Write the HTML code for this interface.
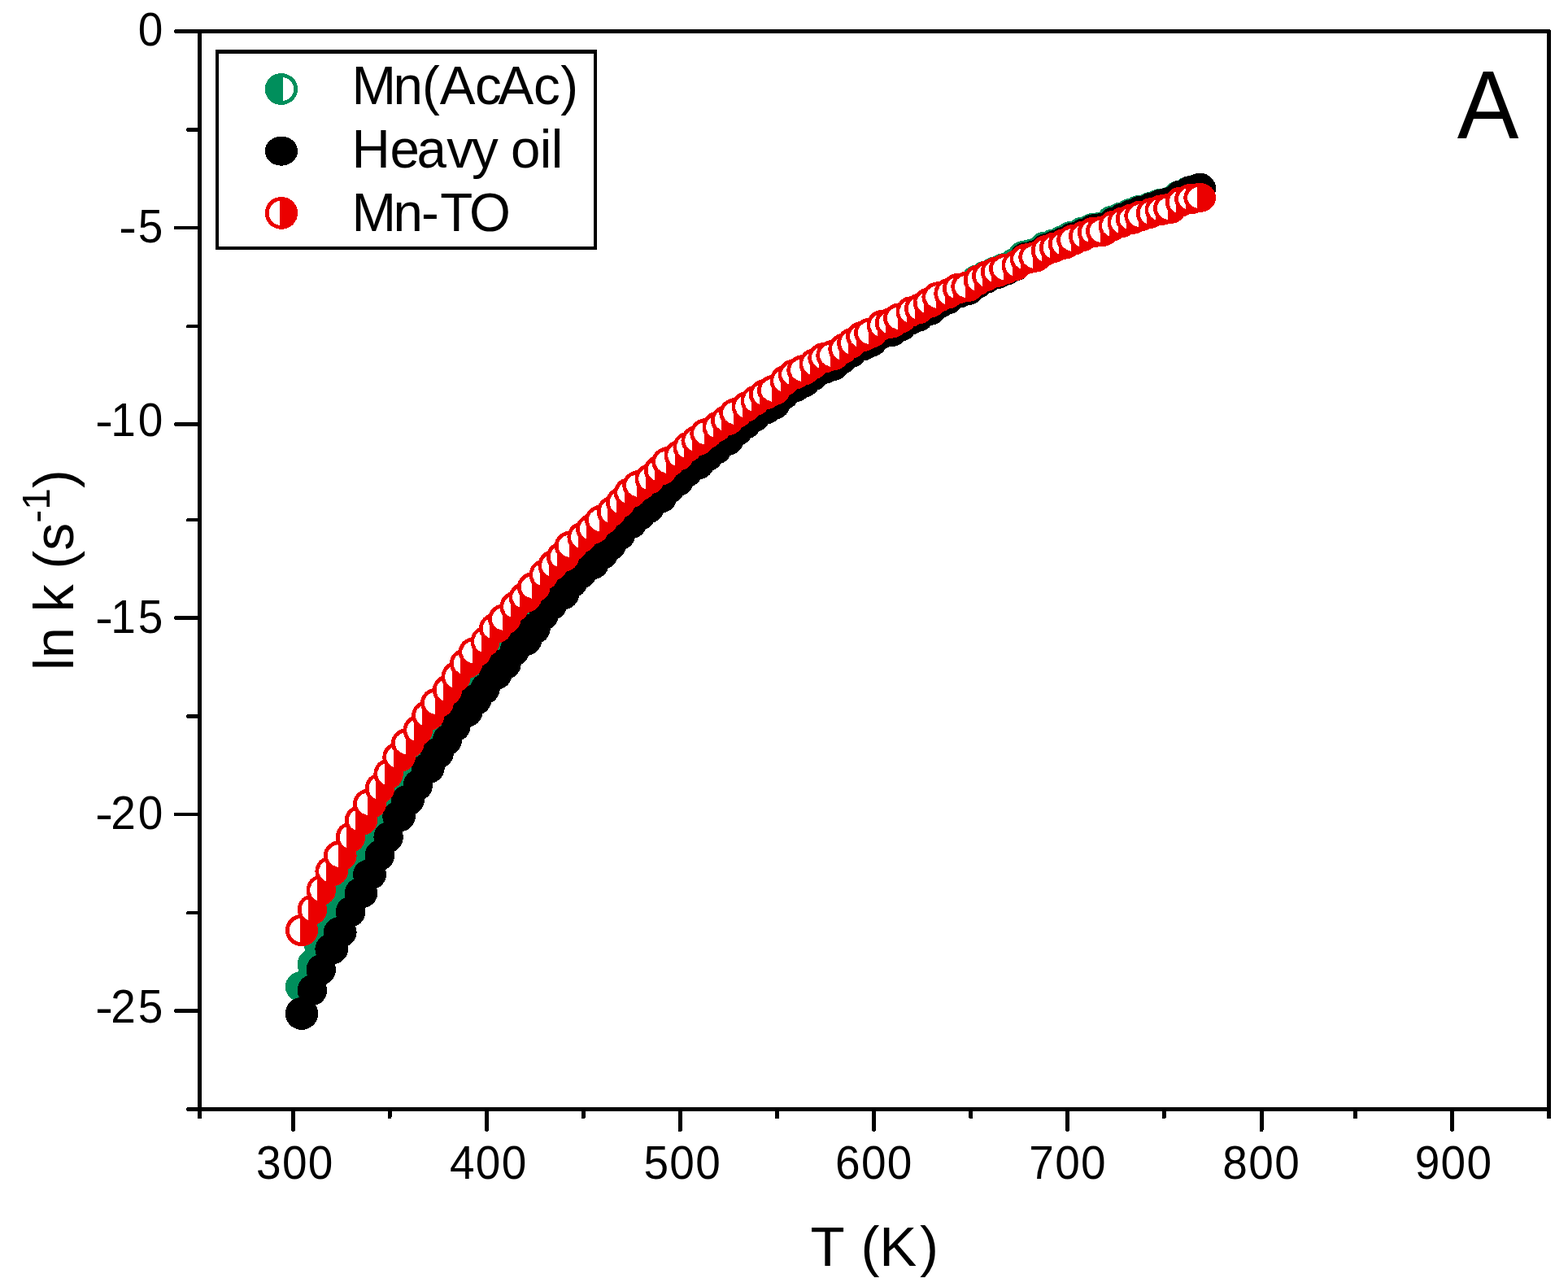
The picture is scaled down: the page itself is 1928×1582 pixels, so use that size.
<!DOCTYPE html>
<html lang="en"><head><meta charset="utf-8"><title>ln k vs T</title>
<style>
html,body{margin:0;padding:0;background:#fff}
body{width:1928px;height:1582px;overflow:hidden}
svg{display:block}
.gm,.rm,.bm,.ax{shape-rendering:crispEdges}
.t{font-family:"Liberation Sans",sans-serif;fill:#000}
.gm ellipse{fill:#008f5c}
.rm ellipse{fill:#eb0000}
.gm path,.rm path{fill:#fff}
</style></head><body>
<svg width="1928" height="1582" viewBox="0 0 1928 1582">
<rect width="1928" height="1582" fill="#fff"/>
<g class="gm"><ellipse cx="371" cy="1212.9" rx="20.2" ry="19"/><ellipse cx="383.9" cy="1185.5" rx="18.2" ry="19"/><ellipse cx="393.5" cy="1161.9" rx="19.4" ry="19"/><ellipse cx="406.4" cy="1139.9" rx="21.6" ry="19"/><ellipse cx="417" cy="1119.5" rx="21.7" ry="19"/><ellipse cx="429.8" cy="1093.2" rx="19.4" ry="19"/><ellipse cx="442.8" cy="1071.6" rx="21.6" ry="19"/><ellipse cx="453.2" cy="1050.2" rx="21.7" ry="19"/><ellipse cx="465.6" cy="1028.3" rx="19.4" ry="19"/><ellipse cx="476.4" cy="1004.7" rx="19.4" ry="19"/><ellipse cx="489.4" cy="979.6" rx="21.6" ry="19"/><ellipse cx="500.1" cy="962.9" rx="21.6" ry="19"/><ellipse cx="512.5" cy="943.6" rx="19.4" ry="19"/><ellipse cx="525.1" cy="923" rx="21.5" ry="19"/><ellipse cx="536.1" cy="906.6" rx="21.6" ry="19"/><ellipse cx="548.6" cy="889.2" rx="19.4" ry="19"/><ellipse cx="559.3" cy="871.6" rx="19.4" ry="19"/><ellipse cx="572" cy="855.9" rx="21.5" ry="19"/><ellipse cx="582.8" cy="843.3" rx="21.6" ry="19"/><ellipse cx="595.3" cy="828" rx="19.4" ry="19"/><ellipse cx="608" cy="811.7" rx="21.5" ry="19"/><ellipse cx="619.1" cy="799.5" rx="21.6" ry="19"/><ellipse cx="631.4" cy="783.1" rx="19.4" ry="19"/><ellipse cx="644.5" cy="772.1" rx="21.5" ry="19"/><ellipse cx="655.1" cy="755.4" rx="21.6" ry="19"/><ellipse cx="667.3" cy="739.2" rx="19.4" ry="19"/><ellipse cx="678.2" cy="728.9" rx="19.4" ry="19"/><ellipse cx="690.8" cy="715.2" rx="21.5" ry="19"/><ellipse cx="700.9" cy="700.9" rx="21.6" ry="19"/><ellipse cx="714.2" cy="691.1" rx="19.4" ry="19"/><ellipse cx="727.1" cy="680" rx="21.5" ry="19"/><ellipse cx="738.1" cy="668.1" rx="21.6" ry="19"/><ellipse cx="750.6" cy="656.3" rx="19.4" ry="19"/><ellipse cx="761.8" cy="643" rx="19.4" ry="19"/><ellipse cx="773.6" cy="631.2" rx="21.5" ry="19"/><ellipse cx="784.5" cy="623.5" rx="21.6" ry="19"/><ellipse cx="797.5" cy="613.1" rx="19.4" ry="19"/><ellipse cx="810.8" cy="599.9" rx="21.5" ry="19"/><ellipse cx="820.5" cy="590.1" rx="21.6" ry="19"/><ellipse cx="833.5" cy="580.8" rx="19.4" ry="19"/><ellipse cx="844.3" cy="569.9" rx="19.4" ry="19"/><ellipse cx="856.5" cy="561.6" rx="21.5" ry="19"/><ellipse cx="867.5" cy="552" rx="21.6" ry="19"/><ellipse cx="880.4" cy="543.4" rx="19.4" ry="19"/><ellipse cx="893" cy="532.7" rx="21.5" ry="19"/><ellipse cx="903.5" cy="521.7" rx="21.6" ry="19"/><ellipse cx="916.5" cy="513.2" rx="19.4" ry="19"/><ellipse cx="927.3" cy="504.8" rx="19.4" ry="19"/><ellipse cx="939.8" cy="496.8" rx="21.5" ry="19"/><ellipse cx="950.1" cy="489.4" rx="21.6" ry="19"/><ellipse cx="963.3" cy="475.9" rx="19.4" ry="19"/><ellipse cx="975.6" cy="470.1" rx="21.5" ry="19"/><ellipse cx="986.5" cy="464.5" rx="21.6" ry="19"/><ellipse cx="999.3" cy="455" rx="19.4" ry="19"/><ellipse cx="1012.3" cy="448.8" rx="21.5" ry="19"/><ellipse cx="1022.5" cy="445" rx="21.6" ry="19"/><ellipse cx="1035.2" cy="434.7" rx="19.4" ry="19"/><ellipse cx="1046.1" cy="427.3" rx="19.4" ry="19"/><ellipse cx="1059.2" cy="420.2" rx="21.5" ry="19"/><ellipse cx="1069.2" cy="415.1" rx="21.6" ry="19"/><ellipse cx="1082.4" cy="406.1" rx="19.4" ry="19"/><ellipse cx="1094.8" cy="404.2" rx="21.5" ry="19"/><ellipse cx="1105.2" cy="396.5" rx="21.6" ry="19"/><ellipse cx="1118.4" cy="389" rx="19.4" ry="19"/><ellipse cx="1128.9" cy="385.3" rx="19.4" ry="19"/><ellipse cx="1141.8" cy="376.8" rx="21.5" ry="19"/><ellipse cx="1152.6" cy="369.6" rx="21.6" ry="19"/><ellipse cx="1165.2" cy="364.2" rx="19.4" ry="19"/><ellipse cx="1177.8" cy="357.4" rx="21.5" ry="19"/><ellipse cx="1188.4" cy="353.5" rx="21.6" ry="19"/><ellipse cx="1201.6" cy="344.3" rx="19.4" ry="19"/><ellipse cx="1212" cy="339.4" rx="19.4" ry="19"/><ellipse cx="1224.8" cy="334.2" rx="21.5" ry="19"/><ellipse cx="1235.2" cy="330.1" rx="21.6" ry="19"/><ellipse cx="1248.3" cy="323.4" rx="19.4" ry="19"/><ellipse cx="1260.7" cy="314.4" rx="21.5" ry="19"/><ellipse cx="1271.4" cy="312.1" rx="21.6" ry="19"/><ellipse cx="1284.6" cy="303.6" rx="19.4" ry="19"/><ellipse cx="1294.8" cy="300.6" rx="19.4" ry="19"/><ellipse cx="1307.8" cy="295.8" rx="21.5" ry="19"/><ellipse cx="1318.3" cy="290.5" rx="21.6" ry="19"/><ellipse cx="1330.8" cy="285.6" rx="19.4" ry="19"/><ellipse cx="1343.8" cy="281.1" rx="21.5" ry="19"/><ellipse cx="1354.2" cy="279.3" rx="21.6" ry="19"/><ellipse cx="1367.4" cy="271.6" rx="19.4" ry="19"/><ellipse cx="1378.3" cy="267.4" rx="19.4" ry="19"/><ellipse cx="1390.8" cy="262.8" rx="21.5" ry="19"/><ellipse cx="1401.4" cy="258.8" rx="21.6" ry="19"/><ellipse cx="1413.7" cy="255.2" rx="19.4" ry="19"/><ellipse cx="1426.7" cy="251.1" rx="21.5" ry="19"/><ellipse cx="1437.2" cy="248.9" rx="21.6" ry="19"/><ellipse cx="1449.7" cy="240.9" rx="19.4" ry="19"/><ellipse cx="1463.2" cy="235.4" rx="21.5" ry="19"/><ellipse cx="1473.9" cy="232.3" rx="21.1" ry="19"/></g>
<g class="bm" fill="#000"><ellipse cx="371" cy="1245.9" rx="20.2" ry="20"/><ellipse cx="383.9" cy="1217.2" rx="18.2" ry="19"/><ellipse cx="394.8" cy="1191.9" rx="18.2" ry="19"/><ellipse cx="407.7" cy="1166.6" rx="20.3" ry="19"/><ellipse cx="418.2" cy="1145.9" rx="20.4" ry="19"/><ellipse cx="431" cy="1120.8" rx="18.2" ry="19"/><ellipse cx="444" cy="1097.6" rx="20.3" ry="19"/><ellipse cx="454.5" cy="1075" rx="20.4" ry="19"/><ellipse cx="466.9" cy="1051.4" rx="18.2" ry="19"/><ellipse cx="477.6" cy="1029.1" rx="18.2" ry="19"/><ellipse cx="490.6" cy="1003.6" rx="20.3" ry="19"/><ellipse cx="501.4" cy="983.8" rx="20.4" ry="19"/><ellipse cx="513.8" cy="965.2" rx="18.2" ry="19"/><ellipse cx="526.4" cy="944.2" rx="20.3" ry="19"/><ellipse cx="537.4" cy="926.2" rx="20.4" ry="19"/><ellipse cx="549.9" cy="909.6" rx="18.1" ry="19"/><ellipse cx="560.6" cy="892.4" rx="18.1" ry="19"/><ellipse cx="573.2" cy="875.1" rx="20.3" ry="19"/><ellipse cx="584" cy="860.4" rx="20.4" ry="19"/><ellipse cx="596.6" cy="846.5" rx="18.1" ry="19"/><ellipse cx="609.2" cy="829.2" rx="20.3" ry="19"/><ellipse cx="620.3" cy="816.4" rx="20.4" ry="19"/><ellipse cx="632.6" cy="800" rx="18.1" ry="19"/><ellipse cx="645.8" cy="787.3" rx="20.3" ry="19"/><ellipse cx="656.3" cy="773" rx="20.4" ry="19"/><ellipse cx="668.6" cy="756" rx="18.1" ry="19"/><ellipse cx="679.5" cy="742.8" rx="18.1" ry="19"/><ellipse cx="692" cy="730.4" rx="20.3" ry="19"/><ellipse cx="702.1" cy="716.1" rx="20.4" ry="19"/><ellipse cx="715.5" cy="704.3" rx="18.1" ry="19"/><ellipse cx="728.4" cy="693.2" rx="20.3" ry="19"/><ellipse cx="739.4" cy="681.4" rx="20.4" ry="19"/><ellipse cx="751.9" cy="669.6" rx="18.1" ry="19"/><ellipse cx="763.1" cy="657" rx="18.1" ry="19"/><ellipse cx="774.9" cy="643.6" rx="20.3" ry="19"/><ellipse cx="785.7" cy="633.4" rx="20.4" ry="19"/><ellipse cx="798.8" cy="623.9" rx="18.1" ry="19"/><ellipse cx="812" cy="611.7" rx="20.3" ry="19"/><ellipse cx="821.7" cy="600.2" rx="20.4" ry="19"/><ellipse cx="834.8" cy="590.7" rx="18.1" ry="19"/><ellipse cx="845.6" cy="579.6" rx="18.1" ry="19"/><ellipse cx="857.8" cy="570.5" rx="20.3" ry="19"/><ellipse cx="868.7" cy="560.7" rx="20.4" ry="19"/><ellipse cx="881.6" cy="551.6" rx="18.1" ry="19"/><ellipse cx="894.2" cy="541" rx="20.3" ry="19"/><ellipse cx="904.7" cy="529.8" rx="20.4" ry="19"/><ellipse cx="917.8" cy="520.5" rx="18.1" ry="19"/><ellipse cx="928.6" cy="511.8" rx="18.1" ry="19"/><ellipse cx="941" cy="502.7" rx="20.3" ry="19"/><ellipse cx="951.4" cy="496.8" rx="20.4" ry="19"/><ellipse cx="964.6" cy="484.4" rx="18.1" ry="19"/><ellipse cx="976.9" cy="475.6" rx="20.3" ry="19"/><ellipse cx="987.7" cy="469.8" rx="20.4" ry="19"/><ellipse cx="1000.6" cy="461.2" rx="18.1" ry="19"/><ellipse cx="1013.6" cy="452.9" rx="20.3" ry="19"/><ellipse cx="1023.7" cy="449.2" rx="20.4" ry="19"/><ellipse cx="1036.4" cy="440.4" rx="18.1" ry="19"/><ellipse cx="1047.3" cy="432.9" rx="18.1" ry="19"/><ellipse cx="1060.4" cy="424.6" rx="20.3" ry="19"/><ellipse cx="1070.5" cy="419.9" rx="20.4" ry="19"/><ellipse cx="1083.7" cy="410.2" rx="18.1" ry="19"/><ellipse cx="1096" cy="407.1" rx="20.3" ry="19"/><ellipse cx="1106.5" cy="401" rx="20.4" ry="19"/><ellipse cx="1119.7" cy="392.7" rx="18.1" ry="19"/><ellipse cx="1130.2" cy="388.7" rx="18.1" ry="19"/><ellipse cx="1143" cy="381" rx="20.3" ry="19"/><ellipse cx="1153.8" cy="372.8" rx="20.4" ry="19"/><ellipse cx="1166.4" cy="367.2" rx="18.1" ry="19"/><ellipse cx="1179.1" cy="359.6" rx="20.3" ry="19"/><ellipse cx="1189.7" cy="356.2" rx="20.4" ry="19"/><ellipse cx="1202.8" cy="347.6" rx="18.1" ry="19"/><ellipse cx="1213.2" cy="341.8" rx="18.1" ry="19"/><ellipse cx="1226" cy="336.2" rx="20.3" ry="19"/><ellipse cx="1236.4" cy="331.9" rx="20.4" ry="19"/><ellipse cx="1249.6" cy="326.1" rx="18.1" ry="19"/><ellipse cx="1261.9" cy="316.6" rx="20.3" ry="19"/><ellipse cx="1272.7" cy="314.2" rx="20.4" ry="19"/><ellipse cx="1285.8" cy="306" rx="18.1" ry="19"/><ellipse cx="1296.1" cy="302.2" rx="18.1" ry="19"/><ellipse cx="1309.1" cy="297.6" rx="20.3" ry="19"/><ellipse cx="1319.6" cy="292.4" rx="20.4" ry="19"/><ellipse cx="1332.1" cy="287.4" rx="18.1" ry="19"/><ellipse cx="1345" cy="282.2" rx="20.3" ry="19"/><ellipse cx="1355.5" cy="280.7" rx="20.4" ry="19"/><ellipse cx="1368.7" cy="273.5" rx="18.1" ry="19"/><ellipse cx="1379.6" cy="268.8" rx="18.1" ry="19"/><ellipse cx="1392" cy="264.1" rx="20.3" ry="19"/><ellipse cx="1402.7" cy="259.7" rx="20.4" ry="19"/><ellipse cx="1414.9" cy="255.8" rx="18.1" ry="19"/><ellipse cx="1427.9" cy="251.3" rx="20.3" ry="19"/><ellipse cx="1438.4" cy="248.9" rx="20.4" ry="19"/><ellipse cx="1450.9" cy="240.4" rx="18.1" ry="19"/><ellipse cx="1464.5" cy="234.9" rx="20.3" ry="19"/><ellipse cx="1475.2" cy="231.7" rx="19.9" ry="19"/></g>
<g class="rm"><ellipse cx="371" cy="1143.5" rx="20.2" ry="19.6"/><path d="M362.3 1131.2L368.3 1128.7L368.9 1128.7L368.9 1158.3L368.3 1158.3L362.3 1155.8L358.3 1151.9L355.7 1146.1L355.7 1140.9L358.3 1135.1Z"/><ellipse cx="383.9" cy="1118.2" rx="18.2" ry="18.8"/><path d="M376.3 1106.6L379 1105.3L379 1131.1L376.3 1129.8L372.7 1126.2L370.5 1120.7L370.5 1115.7L372.7 1110.2Z"/><ellipse cx="394.8" cy="1094.2" rx="18.2" ry="18.8"/><path d="M387.2 1082.6L389.9 1081.3L389.9 1107.1L387.2 1105.8L383.6 1102.2L381.4 1096.7L381.4 1091.7L383.6 1086.2Z"/><ellipse cx="407.7" cy="1070.8" rx="20.3" ry="18.8"/><path d="M398.9 1059.2L400.7 1058.5L400.7 1083.1L398.9 1082.4L394.8 1078.8L392.2 1073.3L392.2 1068.3L394.8 1062.8Z"/><ellipse cx="418.2" cy="1051.9" rx="20.4" ry="18.8"/><path d="M409.3 1040.3L415.5 1037.9L415.6 1037.9L415.6 1065.9L415.5 1065.9L409.3 1063.5L405.2 1059.9L402.6 1054.4L402.6 1049.4L405.2 1043.9Z"/><ellipse cx="431" cy="1029.1" rx="18.2" ry="18.8"/><path d="M423.5 1017.5L426.2 1016.2L426.2 1042L423.5 1040.7L419.9 1037.1L417.7 1031.6L417.7 1026.6L419.9 1021.1Z"/><ellipse cx="444" cy="1008.3" rx="20.3" ry="18.8"/><path d="M435.2 996.7L437 996L437 1020.6L435.2 1019.9L431.1 1016.3L428.5 1010.8L428.5 1005.8L431.1 1000.3Z"/><ellipse cx="454.5" cy="988" rx="20.4" ry="18.8"/><path d="M445.6 976.4L451.8 974L451.9 974L451.9 1002L451.8 1002L445.6 999.6L441.5 996L438.9 990.5L438.9 985.5L441.5 980Z"/><ellipse cx="466.9" cy="969.1" rx="18.2" ry="18.8"/><path d="M459.3 957.5L462 956.2L462 982L459.3 980.7L455.7 977.1L453.5 971.6L453.5 966.6L455.7 961.1Z"/><ellipse cx="477.6" cy="951.4" rx="18.2" ry="18.8"/><path d="M470.1 939.8L472.8 938.5L472.8 964.3L470.1 963L466.5 959.4L464.3 953.9L464.3 948.9L466.5 943.4Z"/><ellipse cx="490.6" cy="930.6" rx="20.3" ry="18.8"/><path d="M481.8 919L483.6 918.3L483.6 942.9L481.8 942.2L477.7 938.6L475.1 933.1L475.1 928.1L477.7 922.6Z"/><ellipse cx="501.4" cy="913.5" rx="20.4" ry="18.8"/><path d="M492.5 901.9L498.7 899.5L498.8 899.5L498.8 927.5L498.7 927.5L492.5 925.1L488.4 921.5L485.8 916L485.8 911L488.4 905.5Z"/><ellipse cx="513.8" cy="897.7" rx="18.2" ry="18.8"/><path d="M506.2 886.1L508.9 884.8L508.9 910.6L506.2 909.3L502.6 905.7L500.4 900.2L500.4 895.2L502.6 889.7Z"/><ellipse cx="526.4" cy="879.4" rx="20.3" ry="18.8"/><path d="M517.6 867.8L519.4 867.1L519.4 891.7L517.6 891L513.5 887.4L510.9 881.9L510.9 876.9L513.5 871.4Z"/><ellipse cx="537.4" cy="864.2" rx="20.4" ry="18.8"/><path d="M528.5 852.6L534.7 850.2L534.8 850.2L534.8 878.2L534.7 878.2L528.5 875.8L524.4 872.2L521.8 866.7L521.8 861.7L524.4 856.2Z"/><ellipse cx="549.9" cy="848.4" rx="18.1" ry="18.8"/><path d="M542.3 836.8L545 835.5L545 861.3L542.3 860L538.7 856.4L536.5 850.9L536.5 845.9L538.7 840.4Z"/><ellipse cx="560.6" cy="832" rx="18.1" ry="18.8"/><path d="M553 820.4L555.7 819.1L555.7 844.9L553 843.6L549.4 840L547.2 834.5L547.2 829.5L549.4 824Z"/><ellipse cx="573.2" cy="815.5" rx="20.3" ry="18.8"/><path d="M564.4 803.9L566.2 803.2L566.2 827.8L564.4 827.1L560.3 823.5L557.7 818L557.7 813L560.3 807.5Z"/><ellipse cx="584" cy="801.6" rx="20.4" ry="18.8"/><path d="M575.1 790L581.3 787.6L581.4 787.6L581.4 815.6L581.3 815.6L575.1 813.2L571 809.6L568.4 804.1L568.4 799.1L571 793.6Z"/><ellipse cx="596.6" cy="788.5" rx="18.1" ry="18.8"/><path d="M589 776.9L591.7 775.6L591.7 801.4L589 800.1L585.4 796.5L583.2 791L583.2 786L585.4 780.5Z"/><ellipse cx="609.2" cy="772.4" rx="20.3" ry="18.8"/><path d="M600.4 760.8L602.2 760.1L602.2 784.7L600.4 784L596.3 780.4L593.7 774.9L593.7 769.9L596.3 764.4Z"/><ellipse cx="620.3" cy="760.9" rx="20.4" ry="18.8"/><path d="M611.4 749.3L617.6 746.9L617.7 746.9L617.7 774.9L617.6 774.9L611.4 772.5L607.3 768.9L604.7 763.4L604.7 758.4L607.3 752.9Z"/><ellipse cx="632.6" cy="745.7" rx="18.1" ry="18.8"/><path d="M625.1 734.1L627.8 732.8L627.8 758.6L625.1 757.3L621.5 753.7L619.3 748.2L619.3 743.2L621.5 737.7Z"/><ellipse cx="645.8" cy="734.3" rx="20.3" ry="18.8"/><path d="M637 722.7L638.8 722L638.8 746.6L637 745.9L632.9 742.3L630.3 736.8L630.3 731.8L632.9 726.3Z"/><ellipse cx="656.3" cy="721.7" rx="20.4" ry="18.8"/><path d="M647.4 710.1L653.6 707.7L653.7 707.7L653.7 735.7L653.6 735.7L647.4 733.3L643.3 729.7L640.7 724.2L640.7 719.2L643.3 713.7Z"/><ellipse cx="668.6" cy="706.5" rx="18.1" ry="18.8"/><path d="M661 694.9L663.7 693.6L663.7 719.4L661 718.1L657.4 714.5L655.2 709L655.2 704L657.4 698.5Z"/><ellipse cx="679.5" cy="695.1" rx="18.1" ry="18.8"/><path d="M671.9 683.5L674.6 682.2L674.6 708L671.9 706.7L668.3 703.1L666.1 697.6L666.1 692.6L668.3 687.1Z"/><ellipse cx="692" cy="684.4" rx="20.3" ry="18.8"/><path d="M683.2 672.8L685 672.1L685 696.7L683.2 696L679.1 692.4L676.5 686.9L676.5 681.9L679.1 676.4Z"/><ellipse cx="702.1" cy="671.1" rx="20.4" ry="18.8"/><path d="M693.2 659.5L699.4 657.1L699.5 657.1L699.5 685.1L699.4 685.1L693.2 682.7L689.1 679.1L686.5 673.6L686.5 668.6L689.1 663.1Z"/><ellipse cx="715.5" cy="660.3" rx="18.1" ry="18.8"/><path d="M707.9 648.7L710.6 647.4L710.6 673.2L707.9 671.9L704.3 668.3L702.1 662.8L702.1 657.8L704.3 652.3Z"/><ellipse cx="728.4" cy="650.2" rx="20.3" ry="18.8"/><path d="M719.6 638.6L721.4 637.9L721.4 662.5L719.6 661.8L715.5 658.2L712.9 652.7L712.9 647.7L715.5 642.2Z"/><ellipse cx="739.4" cy="639.4" rx="20.4" ry="18.8"/><path d="M730.5 627.8L736.7 625.4L736.8 625.4L736.8 653.4L736.7 653.4L730.5 651L726.4 647.4L723.8 641.9L723.8 636.9L726.4 631.4Z"/><ellipse cx="751.9" cy="628.9" rx="18.1" ry="18.8"/><path d="M744.3 617.3L747 616L747 641.8L744.3 640.5L740.7 636.9L738.5 631.4L738.5 626.4L740.7 620.9Z"/><ellipse cx="763.1" cy="617.7" rx="18.1" ry="18.8"/><path d="M755.5 606.1L758.2 604.8L758.2 630.6L755.5 629.3L751.9 625.7L749.7 620.2L749.7 615.2L751.9 609.7Z"/><ellipse cx="774.9" cy="605.6" rx="20.3" ry="18.8"/><path d="M766.1 594L767.9 593.3L767.9 617.9L766.1 617.2L762 613.6L759.4 608.1L759.4 603.1L762 597.6Z"/><ellipse cx="785.7" cy="596.8" rx="20.4" ry="18.8"/><path d="M776.8 585.2L783 582.8L783.1 582.8L783.1 610.8L783 610.8L776.8 608.4L772.7 604.8L770.1 599.3L770.1 594.3L772.7 588.8Z"/><ellipse cx="798.8" cy="588.7" rx="18.1" ry="18.8"/><path d="M791.2 577.1L793.9 575.8L793.9 601.6L791.2 600.3L787.6 596.7L785.4 591.2L785.4 586.2L787.6 580.7Z"/><ellipse cx="812" cy="577.9" rx="20.3" ry="18.8"/><path d="M803.2 566.3L805 565.6L805 590.2L803.2 589.5L799.1 585.9L796.5 580.4L796.5 575.4L799.1 569.9Z"/><ellipse cx="821.7" cy="567.8" rx="20.4" ry="18.8"/><path d="M812.8 556.2L819 553.8L819.1 553.8L819.1 581.8L819 581.8L812.8 579.4L808.7 575.8L806.1 570.3L806.1 565.3L808.7 559.8Z"/><ellipse cx="834.8" cy="559.7" rx="18.1" ry="18.8"/><path d="M827.2 548.1L829.9 546.8L829.9 572.6L827.2 571.3L823.6 567.7L821.4 562.2L821.4 557.2L823.6 551.7Z"/><ellipse cx="845.6" cy="549.6" rx="18.1" ry="18.8"/><path d="M838 538L840.7 536.7L840.7 562.5L838 561.2L834.4 557.6L832.2 552.1L832.2 547.1L834.4 541.6Z"/><ellipse cx="857.8" cy="541.5" rx="20.3" ry="18.8"/><path d="M849 529.9L850.8 529.2L850.8 553.8L849 553.1L844.9 549.5L842.3 544L842.3 539L844.9 533.5Z"/><ellipse cx="868.7" cy="532.7" rx="20.4" ry="18.8"/><path d="M859.8 521.1L866 518.7L866.1 518.7L866.1 546.7L866 546.7L859.8 544.3L855.7 540.7L853.1 535.2L853.1 530.2L855.7 524.7Z"/><ellipse cx="881.6" cy="524.6" rx="18.1" ry="18.8"/><path d="M874.1 513L876.8 511.7L876.8 537.5L874.1 536.2L870.5 532.6L868.3 527.1L868.3 522.1L870.5 516.6Z"/><ellipse cx="894.2" cy="516.5" rx="20.3" ry="18.8"/><path d="M885.4 504.9L887.2 504.2L887.2 528.8L885.4 528.1L881.3 524.5L878.7 519L878.7 514L881.3 508.5Z"/><ellipse cx="904.7" cy="507.8" rx="20.4" ry="18.8"/><path d="M895.8 496.2L902 493.8L902.1 493.8L902.1 521.8L902 521.8L895.8 519.4L891.7 515.8L889.1 510.3L889.1 505.3L891.7 499.8Z"/><ellipse cx="917.8" cy="499.8" rx="18.1" ry="18.8"/><path d="M910.2 488.2L912.9 486.9L912.9 512.7L910.2 511.4L906.6 507.8L904.4 502.3L904.4 497.3L906.6 491.8Z"/><ellipse cx="928.6" cy="492.5" rx="18.1" ry="18.8"/><path d="M921 480.9L923.7 479.6L923.7 505.4L921 504.1L917.4 500.5L915.2 495L915.2 490L917.4 484.5Z"/><ellipse cx="941" cy="484.7" rx="20.3" ry="18.8"/><path d="M932.2 473.1L934 472.4L934 497L932.2 496.3L928.1 492.7L925.5 487.2L925.5 482.2L928.1 476.7Z"/><ellipse cx="951.4" cy="479.6" rx="20.4" ry="18.8"/><path d="M942.5 468L948.7 465.6L948.8 465.6L948.8 493.6L948.7 493.6L942.5 491.2L938.4 487.6L935.8 482.1L935.8 477.1L938.4 471.6Z"/><ellipse cx="964.6" cy="468" rx="18.1" ry="18.8"/><path d="M957 456.4L959.7 455.1L959.7 480.9L957 479.6L953.4 476L951.2 470.5L951.2 465.5L953.4 460Z"/><ellipse cx="976.9" cy="460" rx="20.3" ry="18.8"/><path d="M968.1 448.4L969.9 447.7L969.9 472.3L968.1 471.6L964 468L961.4 462.5L961.4 457.5L964 452Z"/><ellipse cx="987.7" cy="455" rx="20.4" ry="18.8"/><path d="M978.8 443.4L985 441L985.1 441L985.1 469L985 469L978.8 466.6L974.7 463L972.1 457.5L972.1 452.5L974.7 447Z"/><ellipse cx="1000.6" cy="447.2" rx="18.1" ry="18.8"/><path d="M993 435.6L995.7 434.3L995.7 460.1L993 458.8L989.4 455.2L987.2 449.7L987.2 444.7L989.4 439.2Z"/><ellipse cx="1013.6" cy="439.7" rx="20.3" ry="18.8"/><path d="M1004.8 428.1L1006.6 427.4L1006.6 452L1004.8 451.3L1000.7 447.7L998.1 442.2L998.1 437.2L1000.7 431.7Z"/><ellipse cx="1023.7" cy="436.8" rx="20.4" ry="18.8"/><path d="M1014.8 425.2L1021 422.8L1021.1 422.8L1021.1 450.8L1021 450.8L1014.8 448.4L1010.7 444.8L1008.1 439.3L1008.1 434.3L1010.7 428.8Z"/><ellipse cx="1036.4" cy="428.8" rx="18.1" ry="18.8"/><path d="M1028.9 417.2L1031.6 415.9L1031.6 441.7L1028.9 440.4L1025.3 436.8L1023.1 431.3L1023.1 426.3L1025.3 420.8Z"/><ellipse cx="1047.3" cy="421.6" rx="18.1" ry="18.8"/><path d="M1039.8 410L1042.5 408.7L1042.5 434.5L1039.8 433.2L1036.2 429.6L1034 424.1L1034 419.1L1036.2 413.6Z"/><ellipse cx="1060.4" cy="413.6" rx="20.3" ry="18.8"/><path d="M1051.6 402L1053.4 401.3L1053.4 425.9L1051.6 425.2L1047.5 421.6L1044.9 416.1L1044.9 411.1L1047.5 405.6Z"/><ellipse cx="1070.5" cy="409.2" rx="20.4" ry="18.8"/><path d="M1061.6 397.6L1067.8 395.2L1067.9 395.2L1067.9 423.2L1067.8 423.2L1061.6 420.8L1057.5 417.2L1054.9 411.7L1054.9 406.7L1057.5 401.2Z"/><ellipse cx="1083.7" cy="399.8" rx="18.1" ry="18.8"/><path d="M1076.1 388.2L1078.8 386.9L1078.8 412.7L1076.1 411.4L1072.5 407.8L1070.3 402.3L1070.3 397.3L1072.5 391.8Z"/><ellipse cx="1096" cy="396.9" rx="20.3" ry="18.8"/><path d="M1087.2 385.3L1089 384.6L1089 409.2L1087.2 408.5L1083.1 404.9L1080.5 399.4L1080.5 394.4L1083.1 388.9Z"/><ellipse cx="1106.5" cy="391.1" rx="20.4" ry="18.8"/><path d="M1097.6 379.5L1103.8 377.1L1103.9 377.1L1103.9 405.1L1103.8 405.1L1097.6 402.7L1093.5 399.1L1090.9 393.6L1090.9 388.6L1093.5 383.1Z"/><ellipse cx="1119.7" cy="383.1" rx="18.1" ry="18.8"/><path d="M1112.1 371.5L1114.8 370.2L1114.8 396L1112.1 394.7L1108.5 391.1L1106.3 385.6L1106.3 380.6L1108.5 375.1Z"/><ellipse cx="1130.2" cy="379.4" rx="18.1" ry="18.8"/><path d="M1122.6 367.8L1125.3 366.5L1125.3 392.3L1122.6 391L1119 387.4L1116.8 381.9L1116.8 376.9L1119 371.4Z"/><ellipse cx="1143" cy="372" rx="20.3" ry="18.8"/><path d="M1134.2 360.4L1136 359.7L1136 384.3L1134.2 383.6L1130.1 380L1127.5 374.5L1127.5 369.5L1130.1 364Z"/><ellipse cx="1153.8" cy="365.1" rx="20.4" ry="18.8"/><path d="M1144.9 353.5L1151.1 351.1L1151.2 351.1L1151.2 379.1L1151.1 379.1L1144.9 376.7L1140.8 373.1L1138.2 367.6L1138.2 362.6L1140.8 357.1Z"/><ellipse cx="1166.4" cy="360.7" rx="18.1" ry="18.8"/><path d="M1158.9 349.1L1161.6 347.8L1161.6 373.6L1158.9 372.3L1155.3 368.7L1153.1 363.2L1153.1 358.2L1155.3 352.7Z"/><ellipse cx="1179.1" cy="354.4" rx="20.3" ry="18.8"/><path d="M1170.3 342.8L1172.1 342.1L1172.1 366.7L1170.3 366L1166.2 362.4L1163.6 356.9L1163.6 351.9L1166.2 346.4Z"/><ellipse cx="1189.7" cy="352.2" rx="20.4" ry="18.8"/><path d="M1180.8 340.6L1187 338.2L1187.1 338.2L1187.1 366.2L1187 366.2L1180.8 363.8L1176.7 360.2L1174.1 354.7L1174.1 349.7L1176.7 344.2Z"/><ellipse cx="1202.8" cy="344.2" rx="18.1" ry="18.8"/><path d="M1195.3 332.6L1198 331.3L1198 357.1L1195.3 355.8L1191.7 352.2L1189.5 346.7L1189.5 341.7L1191.7 336.2Z"/><ellipse cx="1213.2" cy="339.1" rx="18.1" ry="18.8"/><path d="M1205.7 327.5L1208.4 326.2L1208.4 352L1205.7 350.7L1202.1 347.1L1199.9 341.6L1199.9 336.6L1202.1 331.1Z"/><ellipse cx="1226" cy="334.1" rx="20.3" ry="18.8"/><path d="M1217.2 322.5L1219 321.8L1219 346.4L1217.2 345.7L1213.1 342.1L1210.5 336.6L1210.5 331.6L1213.1 326.1Z"/><ellipse cx="1236.4" cy="330.4" rx="20.4" ry="18.8"/><path d="M1227.5 318.8L1233.7 316.4L1233.8 316.4L1233.8 344.4L1233.7 344.4L1227.5 342L1223.4 338.4L1220.8 332.9L1220.8 327.9L1223.4 322.4Z"/><ellipse cx="1249.6" cy="326.1" rx="18.1" ry="18.8"/><path d="M1242 314.5L1244.7 313.2L1244.7 339L1242 337.7L1238.4 334.1L1236.2 328.6L1236.2 323.6L1238.4 318.1Z"/><ellipse cx="1261.9" cy="318.1" rx="20.3" ry="18.8"/><path d="M1253.1 306.5L1254.9 305.8L1254.9 330.4L1253.1 329.7L1249 326.1L1246.4 320.6L1246.4 315.6L1249 310.1Z"/><ellipse cx="1272.7" cy="315.9" rx="20.4" ry="18.8"/><path d="M1263.8 304.3L1270 301.9L1270.1 301.9L1270.1 329.9L1270 329.9L1263.8 327.5L1259.7 323.9L1257.1 318.4L1257.1 313.4L1259.7 307.9Z"/><ellipse cx="1285.8" cy="307.9" rx="18.1" ry="18.8"/><path d="M1278.3 296.3L1281 295L1281 320.8L1278.3 319.5L1274.7 315.9L1272.5 310.4L1272.5 305.4L1274.7 299.9Z"/><ellipse cx="1296.1" cy="304.3" rx="18.1" ry="18.8"/><path d="M1288.5 292.7L1291.2 291.4L1291.2 317.2L1288.5 315.9L1284.9 312.3L1282.7 306.8L1282.7 301.8L1284.9 296.3Z"/><ellipse cx="1309.1" cy="299.9" rx="20.3" ry="18.8"/><path d="M1300.3 288.3L1302.1 287.6L1302.1 312.2L1300.3 311.5L1296.2 307.9L1293.6 302.4L1293.6 297.4L1296.2 291.9Z"/><ellipse cx="1319.6" cy="294.9" rx="20.4" ry="18.8"/><path d="M1310.7 283.3L1316.9 280.9L1317 280.9L1317 308.9L1316.9 308.9L1310.7 306.5L1306.6 302.9L1304 297.4L1304 292.4L1306.6 286.9Z"/><ellipse cx="1332.1" cy="290.2" rx="18.1" ry="18.8"/><path d="M1324.5 278.6L1327.2 277.3L1327.2 303.1L1324.5 301.8L1320.9 298.2L1318.7 292.7L1318.7 287.7L1320.9 282.2Z"/><ellipse cx="1345" cy="285.4" rx="20.3" ry="18.8"/><path d="M1336.2 273.8L1338 273.1L1338 297.7L1336.2 297L1332.1 293.4L1329.5 287.9L1329.5 282.9L1332.1 277.4Z"/><ellipse cx="1355.5" cy="284.2" rx="20.4" ry="18.8"/><path d="M1346.6 272.6L1352.8 270.2L1352.9 270.2L1352.9 298.2L1352.8 298.2L1346.6 295.8L1342.5 292.2L1339.9 286.7L1339.9 281.7L1342.5 276.2Z"/><ellipse cx="1368.7" cy="277.5" rx="18.1" ry="18.8"/><path d="M1361.1 265.9L1363.8 264.6L1363.8 290.4L1361.1 289.1L1357.5 285.5L1355.3 280L1355.3 275L1357.5 269.5Z"/><ellipse cx="1379.6" cy="273.3" rx="18.1" ry="18.8"/><path d="M1372 261.7L1374.7 260.4L1374.7 286.2L1372 284.9L1368.4 281.3L1366.2 275.8L1366.2 270.8L1368.4 265.3Z"/><ellipse cx="1392" cy="269.1" rx="20.3" ry="18.8"/><path d="M1383.2 257.5L1385 256.8L1385 281.4L1383.2 280.7L1379.1 277.1L1376.5 271.6L1376.5 266.6L1379.1 261.1Z"/><ellipse cx="1402.7" cy="265.3" rx="20.4" ry="18.8"/><path d="M1393.8 253.7L1400 251.3L1400.1 251.3L1400.1 279.3L1400 279.3L1393.8 276.9L1389.7 273.3L1387.1 267.8L1387.1 262.8L1389.7 257.3Z"/><ellipse cx="1414.9" cy="262" rx="18.1" ry="18.8"/><path d="M1407.4 250.4L1410.1 249.1L1410.1 274.9L1407.4 273.6L1403.8 270L1401.6 264.5L1401.6 259.5L1403.8 254Z"/><ellipse cx="1427.9" cy="258.1" rx="20.3" ry="18.8"/><path d="M1419.1 246.5L1420.9 245.8L1420.9 270.4L1419.1 269.7L1415 266.1L1412.4 260.6L1412.4 255.6L1415 250.1Z"/><ellipse cx="1438.4" cy="256.3" rx="20.4" ry="18.8"/><path d="M1429.5 244.7L1435.7 242.3L1435.8 242.3L1435.8 270.3L1435.7 270.3L1429.5 267.9L1425.4 264.3L1422.8 258.8L1422.8 253.8L1425.4 248.3Z"/><ellipse cx="1450.9" cy="248.4" rx="18.1" ry="18.8"/><path d="M1443.4 236.8L1446.1 235.5L1446.1 261.3L1443.4 260L1439.8 256.4L1437.6 250.9L1437.6 245.9L1439.8 240.4Z"/><ellipse cx="1464.5" cy="244.4" rx="20.3" ry="18.8"/><path d="M1455.7 232.8L1457.5 232.1L1457.5 256.7L1455.7 256L1451.6 252.4L1449 246.9L1449 241.9L1451.6 236.4Z"/><ellipse cx="1475.2" cy="242.9" rx="19.9" ry="18"/><path d="M1466.6 231.9L1472 229.9L1472 255.9L1466.6 253.9L1462.6 250.4L1460.1 245.2L1460.1 240.6L1462.6 235.4Z"/></g>
<path class="ax" d="M215.9 280L245.5 280M215.9 1001L245.5 1001M231 401L245.5 401M231 639L245.5 639M231 1122L245.5 1122" fill="none" stroke="#000" stroke-width="4" stroke-linecap="round"/>
<path class="ax" d="M216.3 1242.4L245.5 1242.4M231.4 159.5L245.5 159.5M231.4 880.5L245.5 880.5" fill="none" stroke="#000" stroke-width="4.8" stroke-linecap="round"/>
<path class="ax" d="M216.3 521.6L245.5 521.6" fill="none" stroke="#000" stroke-width="4.9" stroke-linecap="round"/>
<path class="ax" d="M216.4 38.5L1904.6 38.5M1904.6 38.5L1904.6 1373M231.4 1363.5L1904.6 1363.5M245.5 38.5L245.5 1373M360.5 1363.5L360.5 1388.6M598.6 1363.5L598.6 1388.6M836.2 1363.5L836.2 1388.6M1074.5 1363.5L1074.5 1388.6M1312.4 1363.5L1312.4 1388.6M1551 1363.5L1551 1388.6M1785.5 1363.5L1785.5 1388.6M479 1363.5L479 1373M717.4 1363.5L717.4 1373M955.5 1363.5L955.5 1373M1193.9 1363.5L1193.9 1373M1431.4 1363.5L1431.4 1373M1666.5 1363.5L1666.5 1373M216.4 759.6L245.5 759.6" fill="none" stroke="#000" stroke-width="5" stroke-linecap="round"/>
<path class="ax" fill="#000" fill-rule="evenodd" d="M265 61H734V307H265ZM269 66V303H730V66Z"/>
<g class="gm"><ellipse cx="345.9" cy="109.5" rx="20.2" ry="19.4"/><path d="M347.7 95A15.4 14.6 0 0 1 347.7 124Z"/></g>
<g class="bm" fill="#000"><ellipse cx="345.9" cy="185.7" rx="20.2" ry="18"/></g>
<g class="rm"><ellipse cx="345.9" cy="261.9" rx="20.2" ry="19.9"/><path d="M337.1 249.3L343.1 246.8L344 246.8L344 277L343.1 277L337.1 274.5L333.1 270.5L330.5 264.6L330.5 259.2L333.1 253.3Z"/></g>
<g class="t">
<text transform="translate(0 128) scale(1 1.020)" font-size="65.5" x="432.5 483.4 519.1 540.7 584 612.4 655.9 689.3">Mn(AcAc)</text>
<text transform="translate(0 206) scale(1 1.020)" font-size="65.5" x="432.5 479.4 512.6 549.3 580 612.8 628 663.7 677.8">Heavy oil</text>
<text transform="translate(0 283.7) scale(1 1.020)" font-size="65.5" x="432.5 483.4 518 541.3 577.1">Mn-TO</text>
<text transform="translate(0 169.9) scale(1 1.053)" font-size="113.6" x="1791.8">A</text>
<text transform="translate(0 1556)" font-size="69" x="996.5 1031 1058.6 1081.3 1131.1">T (K)</text>
<text transform="translate(362.9 1448.6) scale(1 1.033)" font-size="55" text-anchor="middle" letter-spacing="1.3">300</text>
<text transform="translate(600.8 1448.6) scale(1 1.033)" font-size="55" text-anchor="middle" letter-spacing="1.3">400</text>
<text transform="translate(839.3 1448.6) scale(1 1.033)" font-size="55" text-anchor="middle" letter-spacing="1.3">500</text>
<text transform="translate(1074.9 1448.6) scale(1 1.033)" font-size="55" text-anchor="middle" letter-spacing="1.3">600</text>
<text transform="translate(1313.1 1448.6) scale(1 1.033)" font-size="55" text-anchor="middle" letter-spacing="1.3">700</text>
<text transform="translate(1551.2 1448.6) scale(1 1.033)" font-size="55" text-anchor="middle" letter-spacing="1.3">800</text>
<text transform="translate(1787.5 1448.6) scale(1 1.033)" font-size="55" text-anchor="middle" letter-spacing="1.3">900</text>
<text transform="translate(0 56.4) scale(1 1.033)" font-size="55"><tspan x="169.8" y="0">0</tspan></text>
<text transform="translate(0 297.6) scale(1 1.033)" font-size="55"><tspan x="146.1" y="1.1" textLength="22" lengthAdjust="spacingAndGlyphs">-</tspan><tspan x="169.8" y="0">5</tspan></text>
<text transform="translate(0 535.5) scale(1 1.033)" font-size="55"><tspan x="117" y="1.1" textLength="22" lengthAdjust="spacingAndGlyphs">-</tspan><tspan x="136.3 169.8" y="0">10</tspan></text>
<text transform="translate(0 777.6) scale(1 1.033)" font-size="55"><tspan x="117" y="1.1" textLength="22" lengthAdjust="spacingAndGlyphs">-</tspan><tspan x="136.3 169.8" y="0">15</tspan></text>
<text transform="translate(0 1018.9) scale(1 1.033)" font-size="55"><tspan x="117" y="1.1" textLength="22" lengthAdjust="spacingAndGlyphs">-</tspan><tspan x="136.3 169.8" y="0">20</tspan></text>
<text transform="translate(0 1256.8) scale(1 1.033)" font-size="55"><tspan x="117" y="1.1" textLength="22" lengthAdjust="spacingAndGlyphs">-</tspan><tspan x="136.3 169.8" y="0">25</tspan></text>
<text font-size="68" transform="translate(90.4 824.1) rotate(-90)">ln k (s<tspan font-size="48" dy="-29.4">-1</tspan><tspan dy="29.4">)</tspan></text>
</g>
</svg>
</body></html>
